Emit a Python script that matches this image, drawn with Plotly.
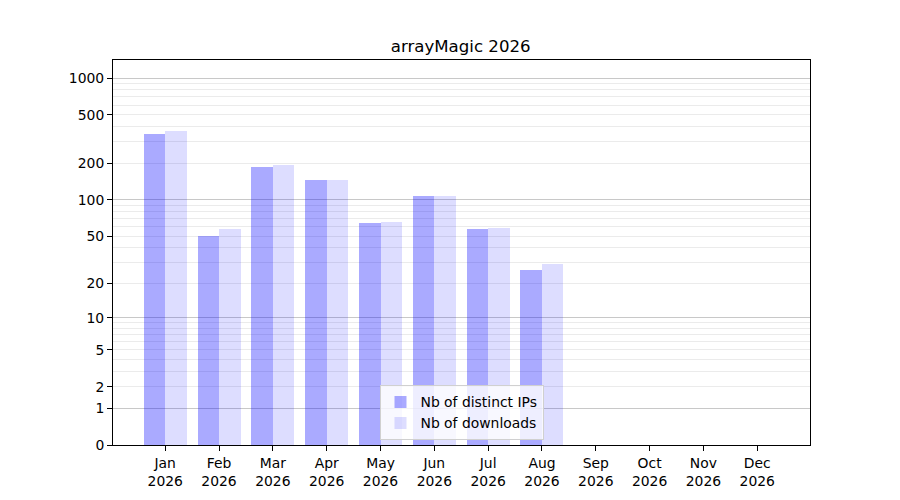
import numpy as np
import plotly.graph_objects as go

# monthly stats (Sep-Dec have no data yet)
months = ["Jan", "Feb", "Mar", "Apr", "May", "Jun",
          "Jul", "Aug", "Sep", "Oct", "Nov", "Dec"]
year = "2026"
distinct_ips = [351, 50, 185, 145, 64, 108, 57, 26, 0, 0, 0, 0]
downloads = [365, 57, 192, 147, 66, 108, 58, 29, 0, 0, 0, 0]

# y tick labels on the log(1+x) axis
y_labels = [0, 1, 2, 5, 10, 20, 50, 100, 200, 500, 1000]
major_grid = [1, 10, 100, 1000]
minor_grid = [2, 3, 4, 5, 6, 7, 8, 9,
              20, 30, 40, 50, 60, 70, 80, 90,
              200, 300, 400, 500, 600, 700, 800, 900]


def tr(v):
    # same transform as the original axis: log10(1 + x)
    return np.log10(1 + np.asarray(v, dtype=float))


x = list(range(len(months)))
ticktext = [f"{m}<br>{year}" for m in months]

fig = go.Figure()

fig.add_trace(go.Bar(
    x=x, y=tr(distinct_ips), name="Nb of distinct IPs",
    offset=-0.4, width=0.4,
    marker=dict(color="rgba(0,0,255,0.333)", line=dict(width=0)),
))
fig.add_trace(go.Bar(
    x=x, y=tr(downloads), name="Nb of downloads",
    offset=0.0, width=0.4,
    marker=dict(color="rgba(0,0,255,0.135)", line=dict(width=0)),
))

# invisible trace so the overlay axis with the major grid exists
fig.add_trace(go.Scatter(x=[0], y=[0], yaxis="y2", mode="markers",
                         marker=dict(opacity=0), showlegend=False,
                         hoverinfo="skip"))

yr = [0, 3.148]

# page puts the figure 8px in from the corner, margins allow for that
fig.update_layout(
    width=900, height=500,
    paper_bgcolor="white", plot_bgcolor="white",
    font=dict(family="DejaVu Sans", size=13.9, color="black"),
    title=dict(text="arrayMagic 2026", xref="container", x=0.503,
               xanchor="center", yref="container", y=0.924,
               yanchor="middle", font=dict(size=16.6)),
    margin=dict(l=105, r=98, t=52, b=63),
    barmode="overlay",
    bargap=0,
    xaxis=dict(
        range=[-0.97, 11.98],
        tickmode="array", tickvals=x, ticktext=ticktext,
        ticks="outside", ticklen=5, tickwidth=1, tickcolor="black",
        showgrid=False, zeroline=False,
        showline=True, linecolor="black", linewidth=1, mirror=True,
    ),
    yaxis=dict(
        range=yr,
        tickmode="array", tickvals=tr(y_labels),
        ticktext=[str(v) for v in y_labels],
        ticks="outside", ticklen=5, tickwidth=1, tickcolor="black",
        showgrid=False, zeroline=False,
        showline=True, linecolor="black", linewidth=1, mirror=True,
        minor=dict(tickvals=tr(minor_grid), showgrid=True,
                   gridcolor="#ebebeb", gridwidth=1, ticks=""),
    ),
    yaxis2=dict(
        range=yr, overlaying="y", side="left",
        tickmode="array", tickvals=tr(major_grid),
        showticklabels=False, ticks="",
        showgrid=True, gridcolor="#c8c8c8", gridwidth=1,
        zeroline=False, showline=False,
    ),
    legend=dict(
        x=0.5, xanchor="center", y=0.012, yanchor="bottom",
        bgcolor="rgba(255,255,255,0.8)", bordercolor="#d0d0d0",
        borderwidth=1, font=dict(size=13.9),
        itemsizing="constant",
    ),
)

fig.write_html("out.html")
